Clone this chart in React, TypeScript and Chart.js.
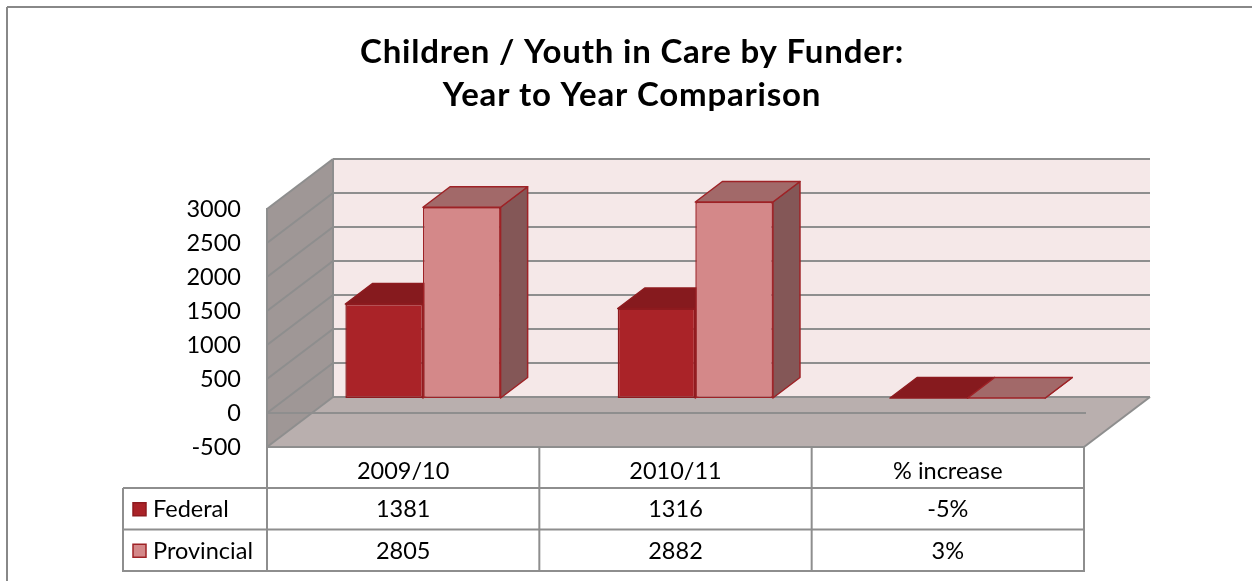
import React, { useEffect, useRef } from 'react';
import { Chart, registerables } from 'chart.js';

Chart.register(...registerables);

// ---------- data ----------
const titleLines = ['Children / Youth in Care by Funder:', 'Year to Year Comparison'];
const categories = ['2009/10', '2010/11', '% increase'];
const seriesNames = ['Federal', 'Provincial'];
const federalValues = [1381, 1316, -0.05];
const provincialValues = [2805, 2882, 0.03];
const percentColumns = [false, false, true];
const yMin = -500;
const yMax = 3000;
const yStep = 500;

// ---------- style ----------
const FONT = 'Lato, "Open Sans", sans-serif';
const WALL_DX = 66;
const WALL_DY = -50;
const BAR_FRONT = 0.3;
const BAR_DEPTH = 0.41;
const GRID = '#8E8E8E';
const BACK_WALL = '#F5E8E8';
const SIDE_WALL = '#9F9796';
const FLOOR = '#B9AFAE';
const seriesFront = ['#AA2328', '#D48889'];
const seriesTop = ['#861A1E', '#A26969'];
const seriesSide = ['#6E1518', '#845757'];
const seriesBorder = ['#8E1B1F', '#9E2226'];

function poly(ctx: CanvasRenderingContext2D, pts: number[][], fill: string, stroke?: string, lw = 1.5) {
  ctx.beginPath();
  ctx.moveTo(pts[0][0], pts[0][1]);
  for (let i = 1; i < pts.length; i++) ctx.lineTo(pts[i][0], pts[i][1]);
  ctx.closePath();
  ctx.fillStyle = fill;
  ctx.fill();
  if (stroke) {
    ctx.strokeStyle = stroke;
    ctx.lineWidth = lw;
    ctx.lineJoin = 'round';
    ctx.stroke();
  }
}

function line(ctx: CanvasRenderingContext2D, x1: number, y1: number, x2: number, y2: number, color = GRID, lw = 2) {
  ctx.beginPath();
  ctx.moveTo(x1, y1);
  ctx.lineTo(x2, y2);
  ctx.strokeStyle = color;
  ctx.lineWidth = lw;
  ctx.stroke();
}

function drawBoxes(chart: any, d: number) {
  const ctx: CanvasRenderingContext2D = chart.ctx;
  const meta = chart.getDatasetMeta(d);
  const fx = WALL_DX * BAR_FRONT, fy = WALL_DY * BAR_FRONT;
  const bx = WALL_DX * BAR_DEPTH, by = WALL_DY * BAR_DEPTH;
  meta.data.forEach((el: any) => {
    const p = el.getProps(['x', 'y', 'base', 'width'], true);
    const x1 = p.x - p.width / 2 + fx;
    const x2 = p.x + p.width / 2 + fx;
    const yt = Math.min(p.y, p.base) + fy;
    const yb = Math.max(p.y, p.base) + fy;
    poly(ctx, [[x2, yt], [x2 + bx, yt + by], [x2 + bx, yb + by], [x2, yb]], seriesSide[d], seriesBorder[d]);
    poly(ctx, [[x1, yt], [x2, yt], [x2 + bx, yt + by], [x1 + bx, yt + by]], seriesTop[d], seriesBorder[d]);
  });
}

const threeD = {
  id: 'threeD',
  beforeDatasetsDraw(chart: any) {
    const { ctx, chartArea: a, scales } = chart;
    const y = scales.y;
    const L = a.left, R = a.right;
    const yT = y.getPixelForValue(yMax);
    const yB = y.getPixelForValue(yMin);
    ctx.save();
    // back wall
    poly(ctx, [[L + WALL_DX, yT + WALL_DY], [R + WALL_DX, yT + WALL_DY], [R + WALL_DX, yB + WALL_DY], [L + WALL_DX, yB + WALL_DY]], BACK_WALL);
    // side wall
    poly(ctx, [[L, yT], [L + WALL_DX, yT + WALL_DY], [L + WALL_DX, yB + WALL_DY], [L, yB]], SIDE_WALL);
    // floor
    poly(ctx, [[L, yB], [R, yB], [R + WALL_DX, yB + WALL_DY], [L + WALL_DX, yB + WALL_DY]], FLOOR);
    // gridlines
    y.ticks.forEach((t: any) => {
      const py = y.getPixelForValue(t.value);
      line(ctx, L + WALL_DX, py + WALL_DY, R + WALL_DX, py + WALL_DY);
      line(ctx, L, py, L + WALL_DX, py + WALL_DY);
    });
    // zero line on floor
    const y0 = y.getPixelForValue(0);
    line(ctx, L, y0, R + 2, y0);
    // edges
    line(ctx, L, yT - 1, L, yB);
    line(ctx, L + WALL_DX, yT + WALL_DY, L + WALL_DX, yB + WALL_DY);
    line(ctx, R, yB, R + WALL_DX, yB + WALL_DY);
    // boxes behind the front series
    drawBoxes(chart, 0);
    ctx.restore();
    ctx.save();
    ctx.translate(WALL_DX * BAR_FRONT, WALL_DY * BAR_FRONT);
  },
  afterDatasetsDraw(chart: any) {
    chart.ctx.restore();
    chart.ctx.save();
    drawBoxes(chart, 1);
    chart.ctx.restore();
  },
  afterDraw(chart: any) {
    const { ctx, chartArea: a } = chart;
    const L = a.left, R = a.right, B = a.bottom;
    const n = categories.length;
    const colW = (R - L) / n;
    const legendLeft = 123;
    const headBottom = 488;
    const rowH = 41.5;
    const rows = [federalValues, provincialValues];
    ctx.save();
    // outer border
    line(ctx, 7, 7, 1260, 7, '#888888', 2);
    line(ctx, 7, 7, 7, 600, '#888888', 2);
    // title
    ctx.fillStyle = '#000';
    ctx.textAlign = 'center';
    ctx.textBaseline = 'alphabetic';
    ctx.font = `bold 33px ${FONT}`;
    (ctx as any).letterSpacing = '0.8px';
    ctx.fillText(titleLines[0], 632, 63);
    ctx.fillText(titleLines[1], 632, 106);
    (ctx as any).letterSpacing = '0px';
    ctx.textBaseline = 'middle';
    // table grid
    line(ctx, L, B, R, B);
    const bottom = headBottom + rowH * 2;
    line(ctx, legendLeft, headBottom, R, headBottom);
    line(ctx, legendLeft, headBottom + rowH, R, headBottom + rowH);
    line(ctx, legendLeft - 1, bottom, R + 1, bottom);
    line(ctx, legendLeft, headBottom, legendLeft, bottom);
    for (let i = 0; i <= n; i++) line(ctx, L + i * colW, B, L + i * colW, bottom);
    // header text
    ctx.font = `23.5px ${FONT}`;
    ctx.fillStyle = '#000';
    categories.forEach((c, i) => ctx.fillText(c, L + (i + 0.5) * colW, 471));
    // rows
    rows.forEach((vals, r) => {
      const cy = headBottom + rowH * (r + 0.5) + 1;
      vals.forEach((v, i) => {
        const txt = percentColumns[i] ? `${Math.round(v * 100)}%` : String(v);
        ctx.textAlign = 'center';
        ctx.fillText(txt, L + (i + 0.5) * colW, cy);
      });
      // legend swatch
      ctx.fillStyle = seriesFront[r];
      ctx.fillRect(133, cy - 7, 13, 13);
      ctx.strokeStyle = seriesBorder[r];
      ctx.lineWidth = 1.5;
      ctx.strokeRect(133, cy - 7, 13, 13);
      ctx.fillStyle = '#000';
      ctx.textAlign = 'left';
      ctx.fillText(seriesNames[r], 153, cy);
    });
    ctx.restore();
  },
};

export default function App() {
  const ref = useRef<HTMLCanvasElement>(null);
  useEffect(() => {
    const chart = new Chart(ref.current as HTMLCanvasElement, {
      type: 'bar',
      data: {
        labels: categories,
        datasets: [
          {
            label: seriesNames[0],
            data: federalValues,
            backgroundColor: seriesFront[0],
            borderColor: seriesBorder[0],
            borderWidth: 1.5,
            borderSkipped: false,
          },
          {
            label: seriesNames[1],
            data: provincialValues,
            backgroundColor: seriesFront[1],
            borderColor: seriesBorder[1],
            borderWidth: 1.5,
            borderSkipped: false,
          },
        ],
      },
      options: {
        responsive: false,
        animation: false,
        layout: { padding: { left: 0, right: 168, top: 209, bottom: 134 } },
        datasets: { bar: { barPercentage: 1, categoryPercentage: 0.57, clip: false as any } },
        plugins: {
          legend: { display: false },
          title: { display: false },
          tooltip: { enabled: false },
        },
        scales: {
          x: { display: false, offset: true },
          y: {
            min: yMin,
            max: yMax,
            grid: { display: false, drawTicks: false },
            border: { display: false },
            ticks: {
              stepSize: yStep,
              padding: 26,
              color: '#000',
              font: { family: FONT, size: 23.5 },
              callback: (v: any) => String(v),
            },
            afterFit: (s: any) => {
              s.width = 267;
            },
          },
        },
      } as any,
      plugins: [threeD],
    });
    return () => chart.destroy();
  }, []);
  return (
    <div style={{ position: 'fixed', left: 0, top: 0, width: 1252, height: 581, background: '#fff' }}>
      <canvas ref={ref} width={1252} height={581} style={{ display: 'block', width: 1252, height: 581 }} />
    </div>
  );
}
